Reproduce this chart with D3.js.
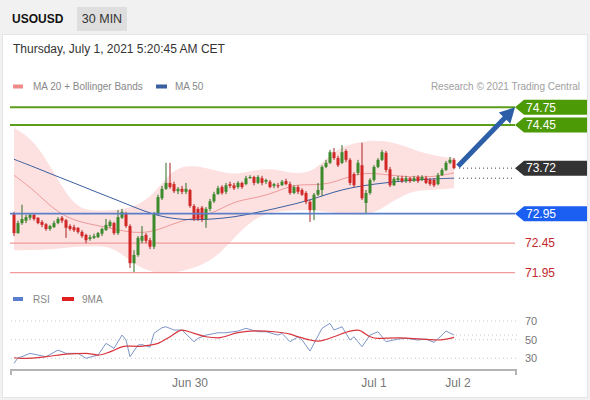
<!DOCTYPE html>
<html><head><meta charset="utf-8">
<script src="https://cdn.jsdelivr.net/npm/d3@7"></script>
<style>
html,body{margin:0;padding:0;background:#f1f1f1;}
svg{display:block;font-family:"Liberation Sans",Arial,Helvetica,sans-serif;}
</style></head><body>
<svg id="c" width="590" height="400"></svg>
<script>
// ---------- DATA ----------
const opens = [72.94,72.62,72.79,72.83,72.88,72.93,72.88,72.81,72.77,72.69,
72.72,72.79,72.88,72.84,72.74,72.72,72.71,72.64,72.59,72.52,
72.54,72.55,72.61,72.67,72.74,72.79,72.62,72.88,72.96,72.74,
72.11,72.25,72.49,72.59,72.50,72.39,72.94,73.21,73.37,73.47,
73.45,73.33,73.37,73.32,73.35,73.08,73.03,73.05,72.86,73.03,
73.16,73.28,73.40,73.32,73.45,73.43,73.40,73.47,73.45,73.55,
73.57,73.47,73.55,73.49,73.49,73.42,73.43,73.43,73.50,73.45,
73.30,73.40,73.35,73.30,73.15,73.01,73.27,73.35,73.74,73.81,
73.99,73.89,73.81,74.01,73.86,73.62,73.64,73.77,73.13,73.30,
73.52,73.74,73.86,73.98,73.70,73.43,73.52,73.55,73.50,73.55,
73.50,73.57,73.52,73.55,73.52,73.52,73.45,73.60,73.69,73.81,
73.86];
const closes = [72.62,72.79,72.86,72.89,72.93,72.86,72.79,72.76,72.69,72.74,
72.79,72.86,72.83,72.71,72.69,72.67,72.64,72.57,72.50,72.55,
72.57,72.62,72.69,72.76,72.81,72.62,72.89,72.98,72.74,72.11,
72.25,72.54,72.57,72.49,72.39,72.94,73.23,73.37,73.47,73.40,
73.33,73.37,73.32,73.37,73.08,72.86,72.86,72.86,73.03,73.16,
73.28,73.38,73.30,73.43,73.42,73.38,73.47,73.40,73.55,73.57,
73.47,73.57,73.47,73.52,73.40,73.45,73.42,73.49,73.45,73.30,
73.40,73.32,73.27,73.15,73.01,73.27,73.35,73.74,73.81,73.99,
73.89,73.77,73.99,73.86,73.47,73.43,73.81,73.21,73.30,73.52,
73.74,73.86,73.99,73.69,73.43,73.54,73.55,73.50,73.55,73.50,
73.55,73.50,73.57,73.47,73.45,73.43,73.60,73.69,73.81,73.86,
73.72];
const highs = [72.98,72.83,73.10,72.93,72.96,72.94,72.89,72.84,72.79,72.76,
72.83,72.89,72.91,72.86,72.77,72.76,72.72,72.67,72.61,72.59,
72.61,72.64,72.71,72.86,72.84,72.81,73.01,73.03,72.98,72.77,
72.33,72.57,72.74,72.62,72.54,72.98,73.27,73.42,73.81,73.81,
73.49,73.40,73.42,73.47,73.37,73.11,73.06,73.08,73.06,73.20,
73.32,73.42,73.43,73.47,73.49,73.47,73.50,73.49,73.59,73.60,
73.59,73.60,73.59,73.54,73.52,73.47,73.47,73.52,73.54,73.49,
73.43,73.43,73.38,73.33,73.18,73.30,73.47,73.77,73.86,74.03,
74.06,73.93,74.11,74.04,73.89,73.65,73.86,74.15,73.35,73.55,
73.77,73.89,74.03,74.01,73.74,73.57,73.59,73.59,73.59,73.57,
73.59,73.60,73.60,73.59,73.55,73.55,73.64,73.72,73.84,73.91,
73.89];
const lows = [72.57,72.61,72.76,72.79,72.84,72.83,72.77,72.72,72.66,72.66,
72.71,72.77,72.79,72.54,72.66,72.64,72.61,72.54,72.45,72.49,
72.52,72.54,72.57,72.66,72.71,72.59,72.59,72.86,72.71,72.03,
71.96,72.22,72.45,72.45,72.35,72.35,72.93,73.18,73.35,73.37,
73.30,73.28,73.28,73.28,73.05,72.83,72.83,72.81,72.71,72.99,
73.13,73.27,73.27,73.28,73.38,73.35,73.37,73.37,73.43,73.54,
73.43,73.45,73.43,73.45,73.38,73.38,73.38,73.42,73.43,73.27,
73.28,73.28,73.25,73.11,72.81,72.84,73.25,73.25,73.72,73.79,
73.86,73.74,73.79,73.82,73.43,73.40,73.60,73.18,72.96,73.27,
73.49,73.72,73.84,73.65,73.40,73.42,73.49,73.47,73.47,73.47,
73.49,73.47,73.50,73.45,73.42,73.40,73.43,73.59,73.67,73.79,
73.70];

// indicator samples (candle index -> value)
const maIdx   = [0,5,10,15,20,25,30,35,40,45,50,55,60,65,70,75,80,85,90,95,100,105,110];
const ma20    = [73.60,73.35,73.01,72.83,72.76,72.69,72.62,72.64,72.79,72.88,72.96,73.16,73.21,73.30,73.45,73.43,73.47,73.62,73.64,73.59,73.57,73.57,73.64];
const ma50    = [73.87,73.74,73.60,73.47,73.33,73.20,73.06,72.93,72.86,72.84,72.86,72.89,72.96,73.03,73.11,73.20,73.32,73.40,73.45,73.49,73.52,73.54,73.55];
const bbUpper = [74.40,74.20,73.65,73.06,72.99,73.01,73.05,73.27,73.74,73.77,73.69,73.60,73.69,73.72,73.62,73.65,74.03,74.15,74.20,74.16,74.03,73.93,73.89];
const bbLower = [72.33,72.33,72.35,72.39,72.40,72.39,72.08,71.94,71.94,72.03,72.17,72.54,72.88,72.98,73.01,73.01,72.96,72.93,72.94,73.18,73.35,73.35,73.38];

const rsiIdx = [0,1,2,4,6,8,11,13,16,18,21,23,25,27,28,29,31,32,34,35,37,38,40,42,45,46,48,51,53,56,58,61,63,66,67,69,71,72,74,77,79,80,82,84,85,87,89,91,93,96,98,101,103,105,107,108,110];
const rsiVal = [24.6,30.6,31.7,35.3,33.5,31.7,38.8,35.3,35.3,30,33.5,46,40.7,54.9,49.6,31.7,44.2,44.7,42,56.8,62.8,63.8,60.3,60.3,47.8,51.4,54.9,57.4,57.4,59.2,62.1,58.5,58.5,54.9,56.7,47.8,53,49.6,37.8,62.1,67.5,60.3,63.8,49.6,53.1,42.4,54.9,58.5,47.8,50.6,51.4,49.6,50.6,47.1,54.9,59.2,54.9];
const rsiMaIdx = [0,2,8,13,18,21,24,28,31,34,36,39,42,45,48,51,56,61,65,69,71,74,76,80,84,86,89,91,96,99,103,106,110];
const rsiMaVal = [30.6,29.9,31.7,34.5,35.3,33.5,36.9,43.1,42.8,44.2,46,53.1,60.3,56.8,53.1,52,57.6,59.5,58.5,56,53.1,49.6,48.5,53.1,59.2,60.3,53.1,51.4,52,51.4,50.3,49.6,52.5];

const resistances = [74.75, 74.45];
const pivot = 72.95;
const supports = [72.45, 71.95];
const lastPrice = 73.72;
const rsiTicks = [70, 50, 30];
const xTickIdx = [44, 90, 111];
const xTickLabels = ["Jun 30", "Jul 1", "Jul 2"];

// ---------- DRAW ----------
const svg = d3.select("#c");
const W = 590;

// header & panel
svg.append("rect").attr("x",0).attr("y",0).attr("width",W).attr("height",400).attr("fill","#f1f1f1");
svg.append("rect").attr("x",2.5).attr("y",34.5).attr("width",585).attr("height",363)
  .attr("fill","#fff").attr("stroke","#e4e4e4");
svg.append("text").attr("x",12).attr("y",23).attr("font-size",12).attr("font-weight","bold")
  .attr("fill","#111").text("USOUSD");
svg.append("rect").attr("x",77).attr("y",7).attr("width",50).attr("height",24).attr("fill","#dedede");
svg.append("text").attr("x",102).attr("y",23).attr("text-anchor","middle").attr("font-size",12.5)
  .attr("fill","#333").text("30 MIN");
svg.append("text").attr("x",13).attr("y",53).attr("font-size",12).attr("fill","#333")
  .text("Thursday, July 1, 2021 5:20:45 AM CET");

// legend
svg.append("rect").attr("x",13).attr("y",84.5).attr("width",10).attr("height",4).attr("fill","#f08a8a");
svg.append("text").attr("x",33).attr("y",90).attr("font-size",10).attr("fill","#888").text("MA 20 + Bollinger Bands");
svg.append("rect").attr("x",156).attr("y",84.5).attr("width",11).attr("height",4).attr("fill","#3a5f9f");
svg.append("text").attr("x",175).attr("y",90).attr("font-size",10).attr("fill","#888").text("MA 50");
svg.append("text").attr("x",580).attr("y",90).attr("text-anchor","end").attr("font-size",10)
  .attr("fill","#a0a0a0").text("Research \u00a9 2021 Trading Central");

// scales
const N = closes.length;
const x = d3.scaleLinear().domain([0, N-1]).range([14, 454]);
const y = d3.scaleLinear().domain([71.95, 74.75]).range([272.7, 107.3]);
const plotL = 10, plotR = 515;

// bollinger band
const bandData = maIdx.map((d,i)=>({i:d, u:bbUpper[i], l:bbLower[i]}));
svg.append("path").datum(bandData)
  .attr("d", d3.area().x(d=>x(d.i)).y0(d=>y(d.l)).y1(d=>y(d.u)).curve(d3.curveBasis))
  .attr("fill","#fde1e1");

// support lines
supports.forEach(v=>{
  svg.append("line").attr("x1",plotL).attr("x2",plotR).attr("y1",y(v)).attr("y2",y(v))
    .attr("stroke","#f29a9a").attr("stroke-width",1.2);
  svg.append("text").attr("x",525).attr("y",y(v)).attr("dy","0.36em").attr("font-size",12)
    .attr("fill","#c0282d").text(v.toFixed(2));
});

// MA lines
svg.append("path").datum(maIdx.map((d,i)=>[d, ma20[i]]))
  .attr("d", d3.line().x(d=>x(d[0])).y(d=>y(d[1])).curve(d3.curveBasis))
  .attr("fill","none").attr("stroke","#ee9a9a").attr("stroke-width",1);
svg.append("path").datum(maIdx.map((d,i)=>[d, ma50[i]]))
  .attr("d", d3.line().x(d=>x(d[0])).y(d=>y(d[1])).curve(d3.curveBasis))
  .attr("fill","none").attr("stroke","#3a5f9f").attr("stroke-width",1);

// candles
const candles = d3.range(N).map(i=>({i, o:opens[i], h:highs[i], l:lows[i], c:closes[i]}));
const cg = svg.append("g");
cg.selectAll("line.w").data(candles).join("line")
  .attr("x1",d=>x(d.i)).attr("x2",d=>x(d.i)).attr("y1",d=>y(d.h)).attr("y2",d=>y(d.l))
  .attr("stroke",d=>d.c>=d.o?"#2f6e22":"#a82020").attr("stroke-width",1);
cg.selectAll("rect").data(candles).join("rect")
  .attr("x",d=>x(d.i)-1.5).attr("width",3)
  .attr("y",d=>y(Math.max(d.o,d.c)))
  .attr("height",d=>Math.max(1, Math.abs(y(d.o)-y(d.c))))
  .attr("fill",d=>d.c>=d.o?"#3b8a2c":"#d12727");

// pivot line
svg.append("line").attr("x1",plotL).attr("x2",plotR).attr("y1",y(pivot)).attr("y2",y(pivot))
  .attr("stroke","#5b7fc7").attr("stroke-width",1.6);

// resistance lines
resistances.forEach(v=>{
  svg.append("line").attr("x1",plotL).attr("x2",plotR).attr("y1",y(v)).attr("y2",y(v))
    .attr("stroke","#5c9e1c").attr("stroke-width",2);
});

// dotted projections
const lastX = x(N-1);
svg.append("line").attr("x1",lastX+5).attr("x2",plotR).attr("y1",y(lastPrice)).attr("y2",y(lastPrice))
  .attr("stroke","#444").attr("stroke-width",1).attr("stroke-dasharray","1,3");
svg.append("line").attr("x1",lastX+5).attr("x2",plotR).attr("y1",y(ma50[ma50.length-1])).attr("y2",y(ma50[ma50.length-1]))
  .attr("stroke","#444").attr("stroke-width",1).attr("stroke-dasharray","1,3");

// tag labels
function tag(v, fill){
  const yc = y(v), x0 = plotR, h = 7.5;
  svg.append("path").attr("d",`M${x0},${yc} L${x0+9},${yc-h} L587,${yc-h} L587,${yc+h} L${x0+9},${yc+h} Z`)
    .attr("fill",fill);
  svg.append("text").attr("x",x0+11).attr("y",yc).attr("dy","0.36em").attr("font-size",12)
    .attr("fill","#fff").text(v.toFixed(2));
}
resistances.forEach(v=>tag(v,"#4b9a06"));
tag(lastPrice,"#333333");
tag(pivot,"#1a5ff2");

// arrow
{
  const x1 = lastX+4, y1 = y(lastPrice)-2, x2 = plotR, y2 = y(resistances[0]);
  const dx = x2-x1, dy = y2-y1, len = Math.hypot(dx,dy), ux = dx/len, uy = dy/len;
  const hl = 15, hw = 8;
  const bx = x2-ux*hl, by = y2-uy*hl;
  svg.append("line").attr("x1",x1).attr("y1",y1).attr("x2",bx+ux*2).attr("y2",by+uy*2)
    .attr("stroke","#2c5fa8").attr("stroke-width",5);
  svg.append("path").attr("d",`M${x2},${y2} L${bx-uy*hw},${by+ux*hw} L${bx+uy*hw},${by-ux*hw} Z`)
    .attr("fill","#2c5fa8");
}

// ---------- RSI panel ----------
svg.append("rect").attr("x",13).attr("y",297).attr("width",10).attr("height",4).attr("fill","#5b7fd0");
svg.append("text").attr("x",33).attr("y",302.5).attr("font-size",10).attr("fill","#888").text("RSI");
svg.append("rect").attr("x",62).attr("y",297).attr("width",12).attr("height",4).attr("fill","#e02020");
svg.append("text").attr("x",82).attr("y",302.5).attr("font-size",10).attr("fill","#888").text("9MA");

const ry = d3.scaleLinear().domain([30,70]).range([358.3, 321]);
rsiTicks.forEach(t=>{
  svg.append("line").attr("x1",11).attr("x2",517).attr("y1",ry(t)).attr("y2",ry(t))
    .attr("stroke","#c8c8c8").attr("stroke-width",1).attr("stroke-dasharray","1,3");
  svg.append("text").attr("x",525).attr("y",ry(t)).attr("dy","0.36em").attr("font-size",11)
    .attr("fill","#777").text(t);
});
svg.append("line").attr("x1",lastX+2).attr("x2",517).attr("y1",ry(rsiVal[rsiVal.length-1])).attr("y2",ry(rsiVal[rsiVal.length-1]))
  .attr("stroke","#c8c8c8").attr("stroke-width",1).attr("stroke-dasharray","1,3");

svg.append("path").datum(rsiIdx.map((d,i)=>[d, rsiVal[i]]))
  .attr("d", d3.line().x(d=>x(d[0])).y(d=>ry(d[1])))
  .attr("fill","none").attr("stroke","#7d96c8").attr("stroke-width",1);
svg.append("path").datum(rsiMaIdx.map((d,i)=>[d, rsiMaVal[i]]))
  .attr("d", d3.line().x(d=>x(d[0])).y(d=>ry(d[1])).curve(d3.curveMonotoneX))
  .attr("fill","none").attr("stroke","#d9363e").attr("stroke-width",1.2);

// bottom axis
const axisY = 370;
svg.append("path").attr("d",`M11,${axisY+5} L11,${axisY} L516,${axisY} L516,${axisY+5}`)
  .attr("fill","none").attr("stroke","#b4b4b4").attr("stroke-width",2);
xTickIdx.forEach((t,i)=>{
  svg.append("text").attr("x",x(t)).attr("y",387).attr("text-anchor","middle")
    .attr("font-size",12).attr("fill","#777").text(xTickLabels[i]);
});
</script>
</body></html>
